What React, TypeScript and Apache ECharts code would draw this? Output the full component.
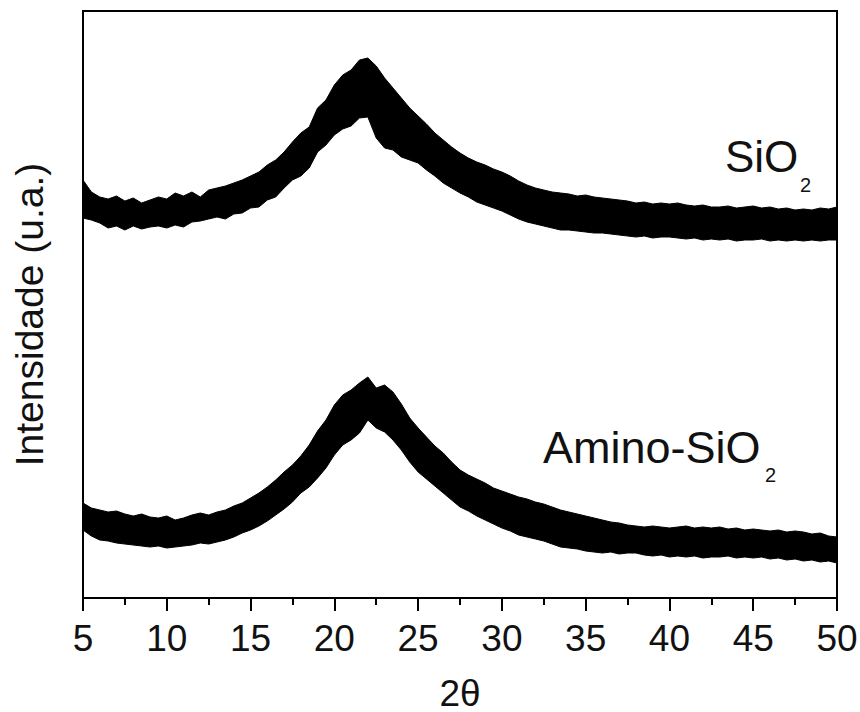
import React, { useEffect, useRef } from "react";
import * as echarts from "echarts";

// 2θ sampling positions (degrees)
const theta = [
  5, 5.5, 6, 6.5, 7, 7.5, 8, 8.5, 9, 9.5, 10, 10.5, 11, 11.5, 12, 12.5, 13, 13.5, 14, 14.5,
  15, 15.5, 16, 16.5, 17, 17.5, 18, 18.5, 19, 19.5, 20, 20.5, 21, 21.5, 22, 22.5, 23, 23.5, 24, 24.5,
  25, 25.5, 26, 26.5, 27, 27.5, 28, 28.5, 29, 29.5, 30, 30.5, 31, 31.5, 32, 32.5, 33, 33.5, 34, 34.5,
  35, 35.5, 36, 36.5, 37, 37.5, 38, 38.5, 39, 39.5, 40, 40.5, 41, 41.5, 42, 42.5, 43, 43.5, 44, 44.5,
  45, 45.5, 46, 46.5, 47, 47.5, 48, 48.5, 49, 49.5, 50,
];

// SiO2 trace: upper and lower edges of the noisy band (u.a.)
const sio2High = [
  418, 406, 401, 399, 402, 397, 400, 395, 398, 401, 399, 405, 402, 406, 401, 408, 410, 412, 415, 418,
  422, 426, 433, 438, 446, 456, 465, 471, 490, 498, 513, 523, 528, 538, 540, 532, 520, 510, 500, 490,
  482, 474, 465, 458, 451, 445, 440, 436, 433, 429, 426, 422, 417, 413, 410, 408, 406, 405, 404, 402,
  403, 401, 400, 399, 398, 397, 395, 396, 394, 395, 394, 395, 393, 392, 393, 391, 391, 392, 390, 391,
  392, 390, 391, 389, 390, 388, 389, 388, 390, 389, 391,
];
const sio2Low = [
  380, 378, 375, 370, 372, 368, 372, 369, 371, 372, 370, 373, 371, 376, 377, 379, 381, 379, 384, 385,
  390, 391, 398, 401, 410, 418, 422, 430, 446, 453, 463, 469, 472, 480, 481, 460, 450, 448, 441, 438,
  435, 428, 422, 415, 410, 405, 401, 396, 393, 390, 387, 383, 379, 376, 374, 372, 370, 368, 368, 367,
  366, 365, 365, 364, 363, 362, 361, 362, 360, 361, 361, 360, 359, 360, 358, 359, 358, 359, 357, 358,
  358, 359, 357, 358, 357, 358, 357, 358, 357, 358, 358,
];

// Amino-SiO2 trace: upper and lower edges of the noisy band (u.a.)
const aminoHigh = [
  95, 90, 88, 86, 87, 84, 82, 84, 81, 80, 82, 78, 80, 83, 85, 83, 86, 88, 92, 95,
  100, 105, 111, 118, 126, 133, 142, 153, 167, 178, 193, 203, 208, 215, 221, 210, 213, 206, 194, 180,
  170, 161, 152, 145, 136, 128, 123, 119, 115, 110, 107, 104, 101, 99, 96, 94, 91, 88, 86, 84,
  82, 80, 78, 76, 75, 73, 72, 71, 72, 71, 70, 71, 72, 70, 71, 70, 71, 69, 70, 68,
  69, 68, 67, 68, 66, 67, 66, 64, 65, 62, 61,
];
const aminoLow = [
  68, 62, 58, 57, 55, 54, 53, 52, 51, 52, 50, 51, 52, 53, 55, 54, 56, 58, 61, 65,
  68, 72, 77, 83, 89, 96, 105, 111, 120, 130, 143, 153, 158, 165, 178, 170, 166, 158, 148, 136,
  126, 119, 112, 105, 98, 91, 87, 82, 78, 74, 70, 67, 63, 61, 59, 57, 54, 51, 50, 49,
  47, 46, 45, 46, 44, 45, 45, 43, 42, 43, 41, 42, 41, 42, 40, 41, 41, 42, 40, 41,
  40, 41, 39, 40, 38, 39, 37, 38, 36, 37, 35,
];

const xTicks = { min: 5, max: 50, interval: 5 };
const yRange = { min: 0, max: 587 };

const FONT = "'Liberation Sans', Arial, sans-serif";
const INK = "#111";

function bandSeries(name: string, lows: number[], highs: number[]) {
  return {
    type: "custom",
    name,
    silent: true,
    clip: true,
    data: theta.map((t, i) => [t, lows[i], highs[i]]),
    encode: { x: 0, y: [1, 2] },
    renderItem: (params: any, api: any) => {
      // draw the whole band once, on the first item
      if (params.dataIndex !== 0) return null;
      const pts: number[][] = [];
      for (let i = 0; i < theta.length; i++) pts.push(api.coord([theta[i], highs[i]]));
      for (let i = theta.length - 1; i >= 0; i--) pts.push(api.coord([theta[i], lows[i]]));
      return {
        type: "polygon",
        shape: { points: pts },
        style: { fill: "#000", stroke: "#000", lineWidth: 1 },
      };
    },
  };
}

export default function App() {
  const ref = useRef<HTMLDivElement>(null);
  useEffect(() => {
    if (!ref.current) return;
    const chart = echarts.init(ref.current, null, { renderer: "svg" });
    chart.setOption({
      animation: false,
      backgroundColor: "#fff",
      grid: {
        left: 83,
        right: 23,
        top: 11,
        bottom: 114,
        containLabel: false,
        outerBoundsMode: "none",
        show: true,
        borderColor: "#000",
        borderWidth: 2,
        backgroundColor: "transparent",
      },
      xAxis: {
        type: "value",
        min: xTicks.min,
        max: xTicks.max,
        interval: xTicks.interval,
        name: "2θ",
        nameLocation: "middle",
        nameGap: 80,
        nameTextStyle: { fontFamily: FONT, fontSize: 37, lineHeight: 30, color: INK },
        axisLine: { show: true, lineStyle: { color: "#000", width: 2 } },
        axisTick: { show: true, inside: false, length: 13, lineStyle: { color: "#000", width: 2 } },
        minorTick: { show: true, splitNumber: 2, length: 7, lineStyle: { color: "#000", width: 2 } },
        axisLabel: { fontFamily: FONT, fontSize: 37, color: INK, margin: 22 },
        splitLine: { show: false },
      },
      yAxis: {
        type: "value",
        min: yRange.min,
        max: yRange.max,
        name: "Intensidade (u.a.)",
        nameLocation: "middle",
        nameGap: 34,
        nameRotate: 90,
        nameTextStyle: { fontFamily: FONT, fontSize: 39, color: INK, padding: [0, 20, 0, 0] },
        axisLine: { show: false },
        axisTick: { show: false },
        axisLabel: { show: false },
        splitLine: { show: false },
      },
      series: [bandSeries("SiO2", sio2Low, sio2High), bandSeries("Amino-SiO2", aminoLow, aminoHigh)],
      graphic: [
        {
          type: "text",
          left: 725,
          top: 134,
          style: { text: "SiO", font: `44px ${FONT}`, fill: INK },
        },
        {
          type: "text",
          left: 800,
          top: 175,
          style: { text: "2", font: `20px ${FONT}`, fill: INK },
        },
        {
          type: "text",
          left: 543,
          top: 425,
          style: { text: "Amino-SiO", font: `45px ${FONT}`, fill: INK },
        },
        {
          type: "text",
          left: 765,
          top: 465,
          style: { text: "2", font: `20px ${FONT}`, fill: INK },
        },
      ],
    });
    return () => chart.dispose();
  }, []);
  return (
    <div
      ref={ref}
      style={{ position: "fixed", left: 0, top: 0, width: 860, height: 712, background: "#fff" }}
    />
  );
}
